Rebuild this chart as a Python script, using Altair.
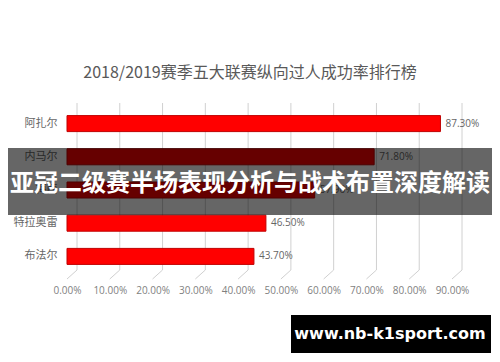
import altair as alt
import pandas as pd

players = ["阿扎尔", "内马尔", "梅西", "特拉奥雷", "布法尔"]
rates = [0.873, 0.718, 0.579, 0.465, 0.437]
ticks = [0.0, 0.1, 0.2, 0.3, 0.4, 0.5, 0.6, 0.7, 0.8, 0.9]

title_text = "2018/2019赛季五大联赛纵向过人成功率排行榜"
banner_text = "亚冠二级赛半场表现分析与战术布置深度解读"
mark_text = "www.nb-k1sport.com"

df = pd.DataFrame({"player": players, "rate": rates})
grid = pd.DataFrame({"t": ticks})
one = pd.DataFrame({"a": [0]})

xscale = alt.Scale(domain=[0, 0.9], nice=False, zero=True)
xaxis = alt.Axis(format=".2%", values=ticks, grid=False, domain=False, ticks=False,
                 labelPadding=12, labelFontSize=10, labelColor="#7f7f7f",
                 labelFont="Open Sans", labelOverlap=False, labelFlush=False)

grid_v = alt.Chart(grid).mark_rule(color="#d0d0d0", strokeWidth=1, xOffset=10).encode(
    x=alt.X("t:Q", scale=xscale, axis=xaxis, title=None),
    y=alt.value(-4),
    y2=alt.value(163),
)
grid_d = alt.Chart(grid).mark_rule(color="#d0d0d0", strokeWidth=1, x2Offset=10).encode(
    x=alt.X("t:Q", scale=xscale, axis=xaxis, title=None),
    x2="t:Q",
    y=alt.value(172),
    y2=alt.value(163),
)

bars = alt.Chart(df).mark_bar(size=16, color="#ff0000", stroke="#c00000", strokeWidth=1).encode(
    x=alt.X("rate:Q", scale=xscale, title=None, axis=xaxis),
    y=alt.Y("player:N", sort=players, title=None,
            axis=alt.Axis(domain=False, ticks=False, labelPadding=10, labelFontSize=11,
                          labelColor="#666666", labelFont="Noto Sans CJK SC")),
)

labels = alt.Chart(df).mark_text(align="left", baseline="middle", dx=5, fontSize=10,
                                 color="#666666", font="Open Sans").encode(
    x=alt.X("rate:Q", scale=xscale),
    y=alt.Y("player:N", sort=players),
    text=alt.Text("rate:Q", format=".2%"),
)

title = alt.Chart(one).mark_text(fontSize=16, color="#595959", font="Noto Sans CJK SC",
                                 baseline="middle", align="center").encode(
    x=alt.value(183), y=alt.value(-34), text=alt.value(title_text)
)

banner = alt.Chart(one).mark_rect(color="#000000", opacity=0.6).encode(
    x=alt.value(-70), x2=alt.value(440), y=alt.value(41), y2=alt.value(108)
)
banner_t = alt.Chart(one).mark_text(fontSize=24, fontWeight="bold", color="#ffffff",
                                    font="Noto Sans CJK SC", baseline="middle", align="center").encode(
    x=alt.value(183), y=alt.value(77), text=alt.value(banner_text)
)

wm = alt.Chart(one).mark_rect(color="#000000").encode(
    x=alt.value(224), x2=alt.value(424), y=alt.value(208), y2=alt.value(246)
)
wm_t = alt.Chart(one).mark_text(fontSize=16, fontWeight="bold", color="#ffffff",
                                font="DejaVu Sans", baseline="middle", align="center").encode(
    x=alt.value(323), y=alt.value(227), text=alt.value(mark_text)
)

chart = alt.layer(grid_v, grid_d, bars, labels, title, banner, banner_t, wm, wm_t).properties(
    width=385, height=166,
    autosize=alt.AutoSizeParams(type="none"),
    padding={"left": 59, "top": 99, "right": 40, "bottom": 81},
    background="#ffffff",
).configure_view(stroke=None)

chart.save("out.html", embed_options={"renderer": "svg", "actions": False})
